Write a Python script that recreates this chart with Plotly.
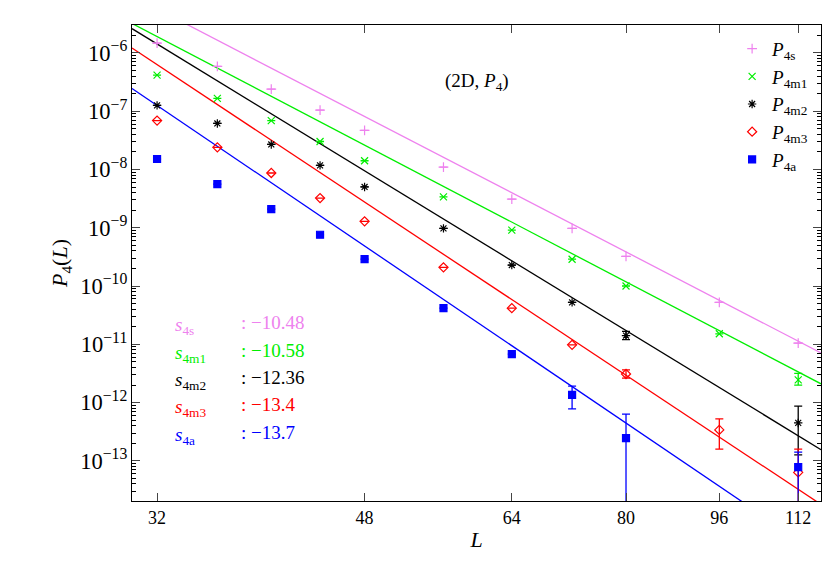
import numpy as np
import plotly.graph_objects as go

L = [32, 36, 40, 44, 48, 56, 64, 72, 80, 96, 112]
names = ["P<sub>4s</sub>", "P<sub>4m1</sub>", "P<sub>4m2</sub>", "P<sub>4m3</sub>", "P<sub>4a</sub>"]
slabels = ["4s", "4m1", "4m2", "4m3", "4a"]
colors = ["#ee82ee", "#00ee00", "#000000", "#ff0000", "#0000ff"]
symbols = ["cross-thin-open", "x-thin-open", "asterisk-open", "diamond-open", "square"]
# log10 values
logP = [
    [-5.83, -6.23, -6.62, -6.98, -7.33, -7.96, -8.51, -9.01, -9.49, -10.28, -10.98],
    [-6.38, -6.78, -7.16, -7.52, -7.85, -8.47, -9.04, -9.54, -10.00, -10.82, -11.61],
    [-6.90, -7.21, -7.57, -7.93, -8.30, -9.01, -9.64, -10.28, -10.85, None, -12.35],
    [-7.16, -7.62, -8.06, -8.49, -8.89, -9.68, -10.38, -11.01, -11.51, -12.47, -13.20],
    [-7.82, -8.25, -8.68, -9.12, -9.54, -10.38, -11.17, -11.87, -12.61, None, -13.11],
]
err_hi = [
    [None]*11,
    [None]*10 + [-11.50],
    [None]*8 + [-10.78, None, -12.06],
    [None]*8 + [-11.44, -12.28, -12.80],
    [None]*7 + [-11.72, -12.20, None, -12.85],
]
err_lo = [
    [None]*11,
    [None]*10 + [-11.70],
    [None]*8 + [-10.92, None, -12.90],
    [None]*8 + [-11.58, -12.80, -20],
    [None]*7 + [-12.11, -20, None, -20],
]
slopes = [-10.48, -10.58, -12.36, -13.4, -13.7]
log_amp = [10.53, 10.206, 12.758, 13.97, 13.72]
slope_text = ["−10.48", "−10.58", "−12.36", "−13.4", "−13.7"]

fig = go.Figure()
xl = np.geomspace(30.47, 117.1, 50)
for i in range(5):
    fig.add_trace(go.Scatter(x=xl, y=10**(log_amp[i] + slopes[i]*np.log10(xl)), mode="lines",
                             line=dict(color=colors[i], width=1.3), showlegend=False, hoverinfo="skip"))
for i in range(5):
    xs, ys, up, dn = [], [], [], []
    for j, v in enumerate(logP[i]):
        if v is None:
            continue
        y = 10**v
        xs.append(L[j]); ys.append(y)
        h = err_hi[i][j]; l = err_lo[i][j]
        up.append(0 if h is None else 10**h - y)
        dn.append(0 if l is None else (y*0.9999 if l <= -20 else y - 10**l))
    fig.add_trace(go.Scatter(x=xs, y=ys, mode="markers", name="<i>P</i>" + names[i][1:],
                             marker=dict(symbol=symbols[i], color=colors[i], size=7,
                                         line=dict(color=colors[i], width=1.2)),
                             error_y=dict(type="data", symmetric=False, array=up, arrayminus=dn,
                                          color=colors[i], thickness=1.3, width=4)))

rows_y = [0.368, 0.309, 0.252, 0.195, 0.136]
for i in range(5):
    fig.add_annotation(xref="paper", yref="paper", x=0.06, y=rows_y[i], xanchor="left", yanchor="middle",
                       text=f"<i>s</i><sub>{slabels[i]}</sub>", showarrow=False,
                       font=dict(color=colors[i], size=19))
    fig.add_annotation(xref="paper", yref="paper", x=0.155, y=rows_y[i] + 0.008, xanchor="left",
                       yanchor="middle", text=f": {slope_text[i]}", showarrow=False,
                       font=dict(color=colors[i], size=19))
fig.add_annotation(xref="paper", yref="paper", x=0.5, y=0.91, text="(2D, <i>P</i><sub>4</sub>)",
                   showarrow=False, font=dict(size=19))

fig.update_layout(
    width=830, height=581, margin=dict(l=124, r=17, t=17, b=88),
    plot_bgcolor="white", paper_bgcolor="white",
    font=dict(family="Liberation Serif", size=18, color="black"),
    legend=dict(x=0.99, y=0.99, xanchor="right", yanchor="top", bgcolor="rgba(0,0,0,0)",
                font=dict(size=19), tracegroupgap=0),
    xaxis=dict(type="log", range=[np.log10(30.47), np.log10(117.1)], tickvals=[32, 48, 64, 80, 96, 112],
               ticktext=["32", "48", "64", "80", "96", "112"], showgrid=False, showline=True,
               linecolor="black", linewidth=1.2, mirror="ticks", ticks="inside", ticklen=8,
               title=dict(text="<i>L</i>", standoff=4)),
    yaxis=dict(type="log", range=[-13.69, -5.52], dtick=1, exponentformat="power", showexponent="all",
               showgrid=False, showline=True, linecolor="black", linewidth=1.2,
               mirror="ticks", ticks="inside", ticklen=8,
               minor=dict(ticks="inside", ticklen=4, dtick="D1", tickcolor="black"),
               title=dict(text="<i>P</i><sub>4</sub>(<i>L</i>)", standoff=6)),
)
fig.write_html("out.html")
